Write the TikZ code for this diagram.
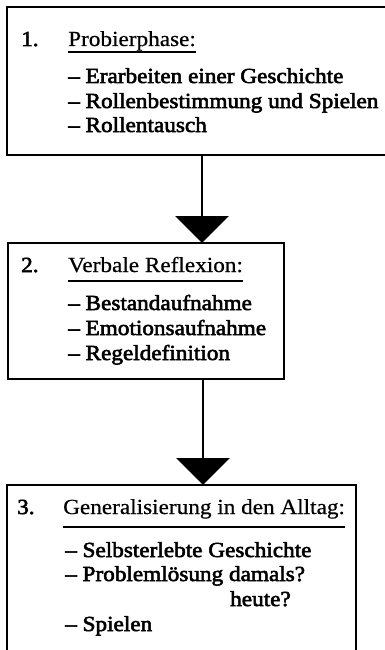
\documentclass[tikz,border=0pt]{standalone}
\usepackage{fontspec}
\setmainfont{Liberation Serif}[FakeStretch=1.08,FakeBold=0.6]
\newfontfamily\heavyserif{Liberation Serif}[FakeStretch=1.08,FakeBold=2.6]
\usetikzlibrary{arrows.meta}
\begin{document}
\begin{tikzpicture}[x=1pt,y=-1pt,
  boxline/.style={line width=1.9pt},
  txt/.style={anchor=base west,inner sep=0pt,font=\fontsize{21.5}{24}\selectfont},
  itm/.style={txt,font=\fontsize{21.5}{24}\selectfont\heavyserif},
  num/.style={txt,font=\fontsize{21.5}{24}\selectfont\heavyserif},
  uline/.style={line width=1.4pt},
  flow/.style={line width=2.6pt,-{Triangle[length=27pt,width=53pt]}}]
\useasboundingbox (0,0) rectangle (385,650);
% box 1 (open to the right)
\draw[boxline] (390,7) -- (7,7) -- (7,155) -- (390,155);
\node[num] (n1) at (21,46) {1.};
\node[txt] (h1) at (68,46) {Probierphase:};
\draw[uline] (68,52) -- (h1.base east |- 0,52);
\node[itm] (a1) at (68,83) {– Erarbeiten einer Geschichte};
\node[itm] (a2) at (68,108) {– Rollenbestimmung und Spielen};
\node[itm] (a3) at (68,132) {– Rollentausch};
% box 2
\draw[boxline] (8,243) rectangle (284,379);
\node[num] (n2) at (21,272) {2.};
\node[txt] (h2) at (68,272) {Verbale Reflexion:};
\draw[uline] (68,281) -- (h2.base east |- 0,281);
\node[itm] (b1) at (68,310) {– Bestandaufnahme};
\node[itm] (b2) at (68,335) {– Emotionsaufnahme};
\node[itm] (b3) at (68,360) {– Regeldefinition};
% box 3 (open at the bottom)
\draw[boxline] (7,655) -- (7,485) -- (356,485) -- (356,655);
\node[num] (n3) at (17,514) {3.};
\node[txt] (h3) at (63,514) {Generalisierung in den Alltag:};
\draw[uline] (63,527) -- (h3.base east |- 0,527);
\node[itm] (c1) at (65,557) {– Selbsterlebte Geschichte};
\node[itm] (c2) at (65,581) {– Problemlösung damals?};
\node[itm] (c3) at (230,606) {heute?};
\node[itm] (c4) at (65,631) {– Spielen};
% connectors
\coordinate (s1) at (202,156);
\coordinate (e1) at (202,243);
\coordinate (s2) at (203,380);
\coordinate (e2) at (203,485);
\draw[flow] (s1) -- (e1);
\draw[flow] (s2) -- (e2);
\end{tikzpicture}
\end{document}
